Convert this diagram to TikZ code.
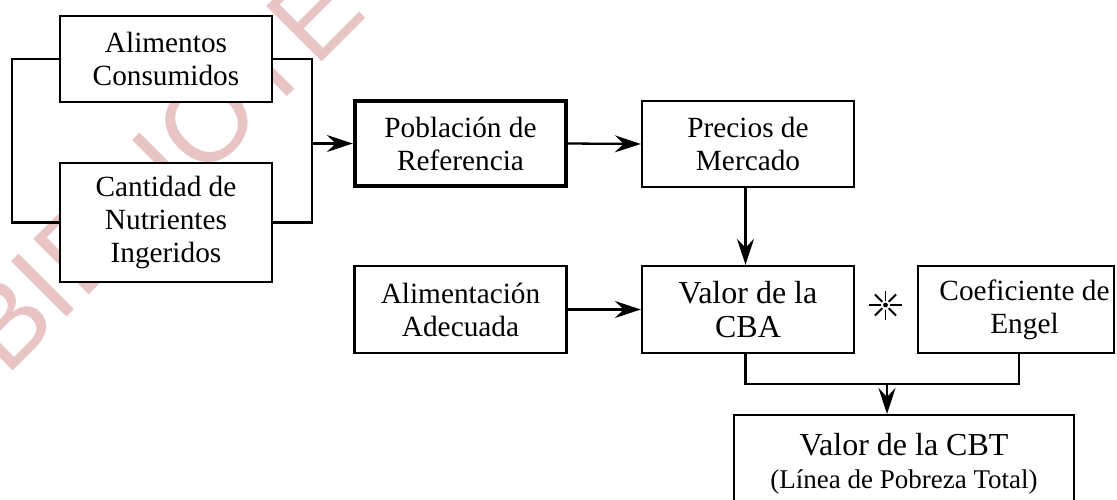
\documentclass[tikz,border=0pt]{standalone}
\usepackage{fontspec}
\setmainfont{Liberation Serif}
\newfontfamily\wmfont{Liberation Sans}
\usetikzlibrary{arrows.meta}
\definecolor{wmpink}{RGB}{233,196,197}
\begin{document}
\begin{tikzpicture}[x=1pt,y=-1pt,
  box/.style={draw, fill=white, line width=2.4pt, align=center, inner sep=0pt,
    font=\fontsize{29.3}{33}\selectfont},
  bigbox/.style={box, font=\fontsize{32}{34}\selectfont},
  conn/.style={line width=2.3pt},
  arr/.style={conn, -{Stealth[length=26pt,width=17pt,inset=9pt]}},
  spoke/.style={line width=1.9pt}]
\useasboundingbox (0,0) rectangle (1117,499);
\clip (0,0) rectangle (1117,499);
% watermark
\node[text=wmpink, font=\wmfont\fontsize{114}{114}\selectfont, inner sep=0pt,
  anchor=base west, rotate=45] (wm) at (6,378) {BIBLIOTECA};
% boxes
\node[box, minimum width=212pt, minimum height=86pt] (A) at (166,59) {Alimentos\\Consumidos};
\node[box, minimum width=212pt, minimum height=119pt] (C) at (166,222.5) {Cantidad de\\Nutrientes\\Ingeridos};
\node[box, line width=4.4pt, minimum width=211pt, minimum height=85pt] (P) at (460.5,143.5) {Población de\\Referencia};
\node[box, minimum width=212pt, minimum height=86pt] (M) at (748,144) {Precios de\\Mercado};
\node[box, minimum width=212pt, minimum height=87pt] (AA) at (460.5,309.5) {Alimentación\\Adecuada};
\node[bigbox, minimum width=212pt, minimum height=87pt] (V) at (748,309.5) {Valor de la\\CBA};
\node[box, minimum width=196pt, minimum height=87pt] (E) at (1016,309.5) {\hspace*{17pt}Coeficiente de\\\hspace*{17pt}Engel};
\node[box, minimum width=340pt, minimum height=98pt, anchor=north] (T) at (904,414)
  {\fontsize{32}{33}\selectfont Valor de la CBT\\\fontsize{27}{33}\selectfont (Línea de Pobreza Total)};
% multiplication mark
\coordinate (ast) at (885.5,305);
\foreach \a/\r in {0/16.5,180/16.5,90/14.5,270/14.5,45/15,135/15,225/15,315/15}
  \draw[spoke] (ast) ++(\a:4.5) -- ++(\a:\r-4.5);
\fill (ast) circle (2.4);
% connectors
\coordinate (bl) at (12,59);
\coordinate (br) at (312,143.5);
\draw[conn] (A.west) -- (A.west -| bl) -- (C.west -| bl) -- (C.west);
\draw[conn] (A.east) -- (A.east -| br) -- (C.east -| br) -- (C.east);
\draw[arr] (br) -- (P.west);
\draw[arr] (P.east) -- (M.west);
\draw[arr] ([xshift=-2.5pt]M.south) -- ([xshift=-2.5pt]V.north);
\draw[arr] (AA.east) -- (V.west);
\coordinate (jn) at (887,384);
\draw[conn] ([xshift=-2.5pt]V.south) |- (jn) -| ([xshift=3pt]E.south);
\draw[arr] (jn) -- (jn |- T.north);
\end{tikzpicture}
\end{document}
